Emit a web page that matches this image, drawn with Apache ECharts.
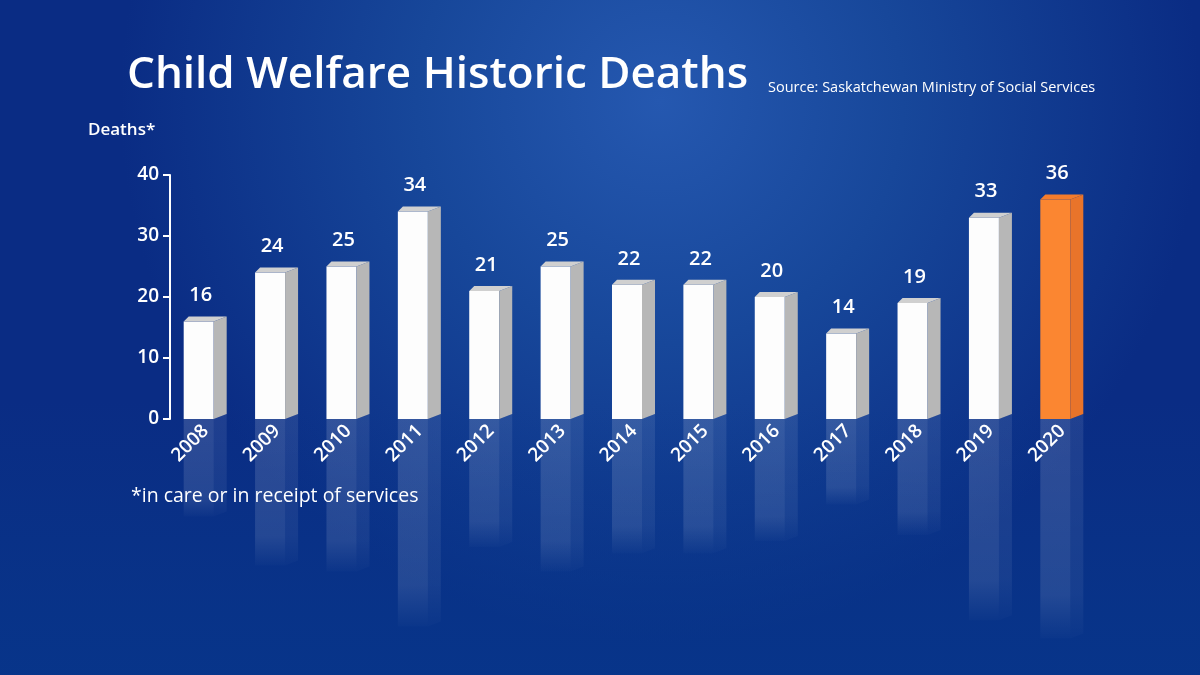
<!DOCTYPE html>
<html>
<head>
<meta charset="utf-8">
<script src="https://cdn.jsdelivr.net/npm/echarts@6/dist/echarts.min.js"></script>
<style>
  html, body { margin: 0; padding: 0; }
  #chart { width: 1200px; height: 675px; }
</style>
</head>
<body>
<div id="chart"></div>
<script>
	'use strict';

	var years = ['2008', '2009', '2010', '2011', '2012', '2013', '2014', '2015', '2016', '2017', '2018', '2019', '2020'];
	var deaths = [16, 24, 25, 34, 21, 25, 22, 22, 20, 14, 19, 33, 36];
	var yTicks = [0, 10, 20, 30, 40];
	var highlightYear = '2020';

	var white = { front: '#fdfdfd', side: '#b7b7b7', top: '#d0d0d0' };
	var orange = { front: '#fb8631', side: '#e9742a', top: '#f47c2c' };

	function renderBar(params, api) {
		var idx = api.value(0);
		var val = api.value(1);
		var base = api.coord([idx, 0]);
		var top = api.coord([idx, val]);
		var cx = base[0];
		var y0 = base[1];
		var y1 = top[1];
		var h = y0 - y1;
		var x0 = cx - 22, x1 = cx + 8, sd = 13, dp = 5;
		var c = years[idx] === highlightYear ? orange : white;
		var fade = function (a, b) {
			return new echarts.graphic.LinearGradient(0, 0, 0, 1, [
				{ offset: 0, color: 'rgba(255,255,255,' + a + ')' },
				{ offset: 0.8, color: 'rgba(255,255,255,' + b + ')' },
				{ offset: 1, color: 'rgba(255,255,255,0.01)' }
			]);
		};
		return {
			type: 'group',
			children: [
				// reflection
				{ type: 'rect', shape: { x: x0, y: y0, width: x1 - x0, height: h },
				  style: { fill: fade(0.15, 0.11) } },
				{ type: 'polygon', shape: { points: [[x1, y0], [x1 + sd, y0 - dp], [x1 + sd, y0 + h - dp], [x1, y0 + h]] },
				  style: { fill: fade(0.09, 0.06) } },
				// bar
				{ type: 'rect', shape: { x: x0, y: y1, width: x1 - x0, height: h }, style: { fill: c.front } },
				{ type: 'polygon', shape: { points: [[x1, y1], [x1 + sd, y1 - dp], [x1 + sd, y0 - dp], [x1, y0]] },
				  style: { fill: c.side } },
				{ type: 'polygon', shape: { points: [[x0, y1], [x0 + dp, y1 - dp], [x1 + sd, y1 - dp], [x1, y1]] },
				  style: { fill: c.top } },
				{ type: 'text', x: cx - 5, y: y1 - 16,
				  style: { text: String(val), fill: '#ffffff', font: '600 20px "Open Sans"', align: 'center', verticalAlign: 'bottom' } }
			]
		};
	}

	var option = {
		backgroundColor: '#0b2f8c',
		graphic: [
			{ type: 'rect', z: -10, shape: { x: 0, y: 0, width: 1200, height: 675 },
			  style: { fill: new echarts.graphic.RadialGradient(0.55, 0.15, 0.8, [
				{ offset: 0, color: '#2558b0' },
				{ offset: 0.45, color: '#17479a' },
				{ offset: 1, color: '#0a2c84' }
			  ]) } },
			{ type: 'rect', z: -9, shape: { x: 0, y: 400, width: 1200, height: 275 },
			  style: { fill: new echarts.graphic.LinearGradient(0, 0, 0, 1, [
				{ offset: 0, color: 'rgba(8,60,140,0)' },
				{ offset: 1, color: 'rgba(6,56,140,0.7)' }
			  ]) } },
			{ type: 'text', left: 127, top: 53,
			  style: { text: 'Child Welfare Historic Deaths', fill: '#ffffff', font: '600 44px "Open Sans"',
			           shadowColor: 'rgba(0,0,0,0.35)', shadowBlur: 6 } },
			{ type: 'text', left: 768, top: 80,
			  style: { text: 'Source: Saskatchewan Ministry of Social Services', fill: '#ffffff', font: '14.5px "Open Sans"' } },
			{ type: 'text', left: 88, top: 122,
			  style: { text: 'Deaths*', fill: '#ffffff', font: '600 17px "Open Sans"' } },
			{ type: 'text', left: 131, top: 486,
			  style: { text: '*in care or in receipt of services', fill: '#ffffff', font: '19.5px "Open Sans"' } }
		],
		grid: { left: 170, right: 102, top: 175, bottom: 256 },
		xAxis: {
			type: 'category',
			data: years,
			z: 10,
			axisLine: { show: false },
			axisTick: { show: false },
			axisLabel: { color: '#ffffff', fontSize: 19, fontWeight: 600, fontFamily: 'Open Sans', rotate: 45, margin: 9 }
		},
		yAxis: {
			type: 'value',
			min: yTicks[0],
			max: yTicks[yTicks.length - 1],
			interval: 10,
			splitLine: { show: false },
			axisLine: { show: true, lineStyle: { color: '#ffffff', width: 2 } },
			axisTick: { show: true, length: 7, lineStyle: { color: '#ffffff', width: 2 } },
			axisLabel: { color: '#ffffff', fontSize: 19, fontWeight: 600, fontFamily: 'Open Sans', margin: 11 }
		},
		series: [{
			type: 'custom',
			renderItem: renderBar,
			clip: false,
			data: deaths.map(function (d, i) { return [i, d]; })
		}]
	};

	var chart = echarts.init(document.getElementById('chart'));
	chart.setOption(option);
</script>
</body>
</html>
